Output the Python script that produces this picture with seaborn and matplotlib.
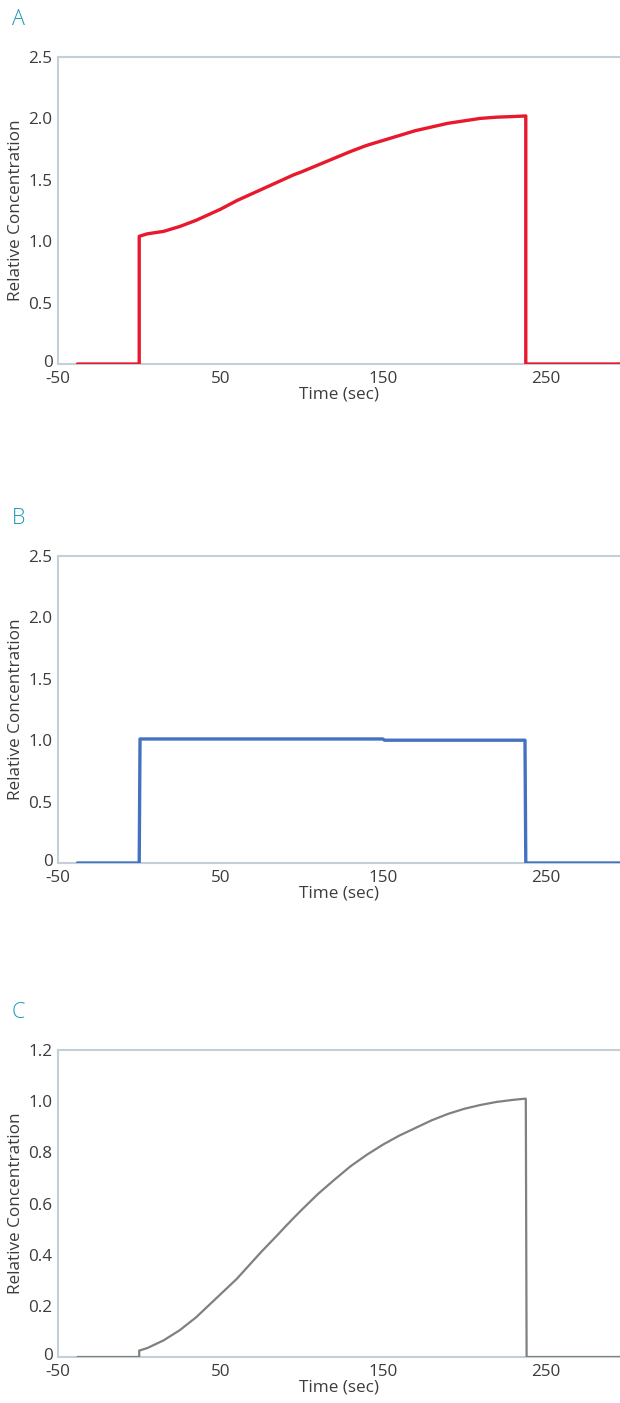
import matplotlib
matplotlib.use("Agg")
import matplotlib.pyplot as plt
import matplotlib.transforms as mtransforms
import seaborn as sns
import pandas as pd

# Time axis (seconds) and relative concentration for each panel
time_a = [-38, 0, 0, 5, 10, 15, 20, 25, 30, 35, 40, 45, 50, 55, 60, 65, 70, 75, 80, 85,
          90, 95, 100, 110, 120, 130, 140, 150, 160, 170, 180, 190, 200, 210, 220, 230,
          238, 238, 296]
conc_a = [0, 0, 1.04, 1.06, 1.07, 1.08, 1.10, 1.12, 1.145, 1.17, 1.20, 1.23, 1.26, 1.295,
          1.33, 1.36, 1.39, 1.42, 1.45, 1.48, 1.51, 1.54, 1.565, 1.62, 1.675, 1.73, 1.78,
          1.82, 1.86, 1.90, 1.93, 1.96, 1.98, 2.00, 2.01, 2.015, 2.02, 0, 0]

time_b = [-38, 0, 0.5, 150, 151, 237.5, 238, 296]
conc_b = [0, 0, 1.01, 1.01, 1.0, 1.0, 0, 0]

time_c = [-38, 0, 0, 5, 10, 15, 20, 25, 30, 35, 40, 45, 50, 55, 60, 65, 70, 75, 80, 85,
          90, 95, 100, 110, 120, 130, 140, 150, 160, 170, 180, 190, 200, 210, 220, 230,
          238, 238.5, 296]
conc_c = [0, 0, 0.025, 0.035, 0.05, 0.065, 0.085, 0.105, 0.13, 0.155, 0.185, 0.215, 0.245,
          0.275, 0.305, 0.34, 0.375, 0.41, 0.443, 0.476, 0.51, 0.543, 0.575, 0.637, 0.692,
          0.745, 0.79, 0.83, 0.865, 0.895, 0.925, 0.95, 0.97, 0.985, 0.997, 1.005, 1.01,
          0, 0]

panel_letters = ["A", "B", "C"]
x_ticks = [-50, 50, 150, 250]
x_tick_labels = ["-50", "50", "150", "250"]
y_ticks_ab = [0, 0.5, 1.0, 1.5, 2.0, 2.5]
y_tick_labels_ab = ["0", "0.5", "1.0", "1.5", "2.0", "2.5"]
y_ticks_c = [0, 0.2, 0.4, 0.6, 0.8, 1.0, 1.2]
y_tick_labels_c = ["0", "0.2", "0.4", "0.6", "0.8", "1.0", "1.2"]

sns.set_theme(style="white")
plt.rcParams["font.family"] = ["Open Sans", "DejaVu Sans"]

TEXT = "#3c3c3c"
SPINE = "#c4d0d7"
LETTER = "#1d9ab4"
FS = 12.3

W, H = 620, 1403
fig = plt.figure(figsize=(W / 100, H / 100), dpi=100)

panels = [
    dict(t=time_a, c=conc_a, color="#e8192c", lw=2.4, top=57,
         yt=y_ticks_ab, ytl=y_tick_labels_ab, ymax=2.5, letter_y=9),
    dict(t=time_b, c=conc_b, color="#4472c0", lw=2.4, top=556,
         yt=y_ticks_ab, ytl=y_tick_labels_ab, ymax=2.5, letter_y=508),
    dict(t=time_c, c=conc_c, color="#808080", lw=1.6, top=1050,
         yt=y_ticks_c, ytl=y_tick_labels_c, ymax=1.2, letter_y=1002),
]

left_px, right_px, height_px = 58, 620, 307
# lift the zero label a little so it sits clear of the "-50" label below it
zero_shift = mtransforms.ScaledTranslation(0, 3 / 100, fig.dpi_scale_trans)

for letter, p in zip(panel_letters, panels):
    bottom_px = p["top"] + height_px
    ax = fig.add_axes([left_px / W, 1 - bottom_px / H,
                       (right_px - left_px) / W, height_px / H])
    df = pd.DataFrame({"Time": p["t"], "Concentration": p["c"]})
    sns.lineplot(data=df, x="Time", y="Concentration", ax=ax, color=p["color"],
                 linewidth=p["lw"], estimator=None, sort=False, zorder=3)
    ax.set_xlim(-50, 296)
    ax.set_ylim(0, p["ymax"])
    ax.set_xticks(x_ticks)
    ax.set_xticklabels(x_tick_labels)
    ax.set_yticks(p["yt"])
    ax.set_yticklabels(p["ytl"])
    ax.tick_params(axis="y", length=0, labelsize=FS, colors=TEXT, pad=4)
    ax.tick_params(axis="x", length=0, labelsize=FS, colors=TEXT, pad=5)
    ax.set_xlabel("Time (sec)", fontsize=FS, color=TEXT, labelpad=0)
    ax.set_ylabel("Relative Concentration", fontsize=FS, color=TEXT, labelpad=3)
    ax.grid(False)
    for side in ("left", "top", "bottom"):
        ax.spines[side].set_color(SPINE)
        ax.spines[side].set_linewidth(1.5)
    ax.spines["right"].set_visible(False)
    zero_label = ax.get_yticklabels()[0]
    zero_label.set_transform(zero_label.get_transform() + zero_shift)
    fig.text(12 / W, 1 - p["letter_y"] / H, letter, fontsize=15.5, color=LETTER,
             ha="left", va="top", fontweight="light")

fig.savefig("out.png", dpi=100, facecolor="white")
